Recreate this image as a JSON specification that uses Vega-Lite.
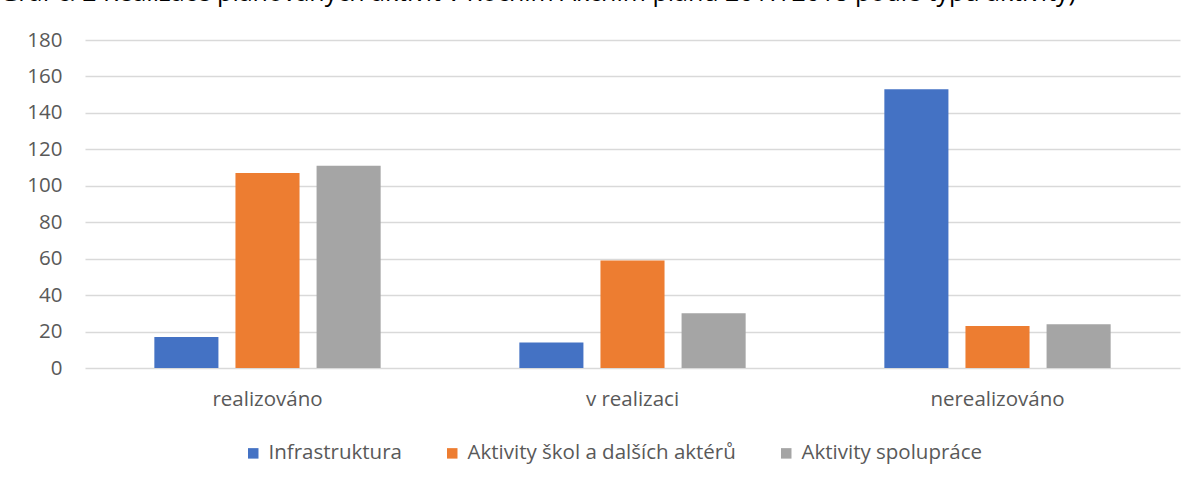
{
  "$schema": "https://vega.github.io/schema/vega-lite/v6.json",
  "autosize": {"type": "none"},
  "width": 1095,
  "height": 328,
  "padding": {"left": 85, "top": 40, "right": 19, "bottom": 115},
  "background": "white",
  "title": {
    "text": "Graf č. 2 Realizace plánovaných aktivit v Ročním Akčním plánu 2017/2018 podle typu aktivity)",
    "anchor": "start",
    "frame": "group",
    "dx": -85,
    "offset": 4,
    "baseline": "alphabetic",
    "font": "Open Sans",
    "fontSize": 25,
    "fontWeight": "normal",
    "color": "#000000"
  },
  "data": {
    "values": [
      {"stav": "realizováno", "typ": "Infrastruktura", "pocet": 17},
      {"stav": "realizováno", "typ": "Aktivity škol a dalších aktérů", "pocet": 107},
      {"stav": "realizováno", "typ": "Aktivity spolupráce", "pocet": 111},
      {"stav": "v realizaci", "typ": "Infrastruktura", "pocet": 14},
      {"stav": "v realizaci", "typ": "Aktivity škol a dalších aktérů", "pocet": 59},
      {"stav": "v realizaci", "typ": "Aktivity spolupráce", "pocet": 30},
      {"stav": "nerealizováno", "typ": "Infrastruktura", "pocet": 153},
      {"stav": "nerealizováno", "typ": "Aktivity škol a dalších aktérů", "pocet": 23},
      {"stav": "nerealizováno", "typ": "Aktivity spolupráce", "pocet": 24}
    ]
  },
  "mark": {"type": "bar"},
  "encoding": {
    "x": {
      "field": "stav",
      "type": "nominal",
      "sort": ["realizováno", "v realizaci", "nerealizováno"],
      "scale": {"paddingInner": 0.38, "paddingOuter": 0.19},
      "axis": {
        "title": null,
        "labelAngle": 0,
        "domain": false,
        "ticks": false,
        "grid": false,
        "labelPadding": 21,
        "labelFont": "Open Sans",
        "labelFontSize": 20.5,
        "labelColor": "#595959"
      }
    },
    "xOffset": {
      "field": "typ",
      "type": "nominal",
      "sort": ["Infrastruktura", "Aktivity škol a dalších aktérů", "Aktivity spolupráce"],
      "scale": {"paddingInner": 0.21, "paddingOuter": 0}
    },
    "y": {
      "field": "pocet",
      "type": "quantitative",
      "scale": {"domain": [0, 180], "nice": false},
      "axis": {
        "title": null,
        "values": [0, 20, 40, 60, 80, 100, 120, 140, 160, 180],
        "domain": false,
        "ticks": false,
        "grid": true,
        "labelPadding": 23,
        "labelFont": "Open Sans",
        "labelFontSize": 20.5,
        "labelColor": "#595959",
        "gridColor": "#d9d9d9",
        "gridWidth": 1.5
      }
    },
    "color": {
      "field": "typ",
      "type": "nominal",
      "sort": ["Infrastruktura", "Aktivity škol a dalších aktérů", "Aktivity spolupráce"],
      "scale": {
        "domain": ["Infrastruktura", "Aktivity škol a dalších aktérů", "Aktivity spolupráce"],
        "range": ["#4472C4", "#ED7D31", "#A5A5A5"]
      },
      "legend": {
        "title": null,
        "orient": "none",
        "legendX": 158,
        "legendY": 403,
        "direction": "horizontal",
        "symbolType": "square",
        "symbolSize": 110,
        "symbolStrokeWidth": 0,
        "labelFont": "Open Sans",
        "labelFontSize": 20.5,
        "labelColor": "#595959",
        "labelOffset": 5,
        "labelLimit": 400,
        "columnPadding": 40
      }
    }
  },
  "config": {
    "view": {"stroke": null}
  }
}
